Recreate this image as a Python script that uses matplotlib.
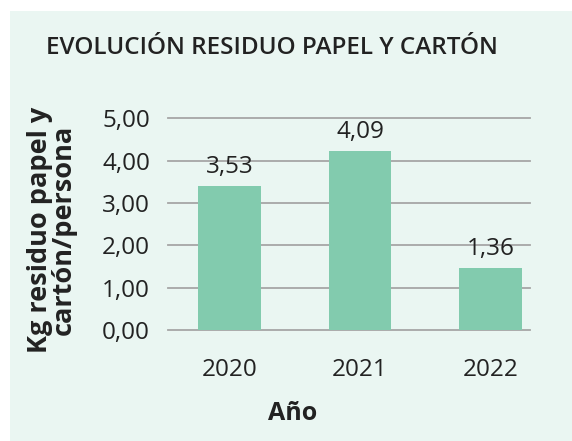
import matplotlib
matplotlib.use("Agg")
import matplotlib.pyplot as plt
from matplotlib.patches import Rectangle
from matplotlib.ticker import FuncFormatter

years = ["2020", "2021", "2022"]
kg_bar = [3.40, 4.23, 1.47]          # bar heights as drawn in the source
kg_labels = ["3,53", "4,09", "1,36"]  # printed data labels
yticks = [0, 1, 2, 3, 4, 5]

PANEL = "#eaf6f2"
BAR = "#82cbae"
GRID = "#a6a6a6"
TXT = "#222222"

plt.rcParams["font.family"] = ["Open Sans", "DejaVu Sans"]

fig = plt.figure(figsize=(5.72, 4.41), dpi=100)
fig.patches.append(Rectangle((10 / 572, 0), 1, 1 - 11 / 441, transform=fig.transFigure,
                             facecolor=PANEL, edgecolor="none", zorder=-5))

ax = fig.add_axes([168 / 572, 111 / 441, 362 / 572, 211.7 / 441])
ax.set_zorder(2)
ax.set_facecolor("none")
x = range(len(years))
bars = ax.bar(x, kg_bar, width=0.48, color=BAR, zorder=2)
for b, lab in zip(bars, kg_labels):
    ax.annotate(lab, (b.get_x() + b.get_width() / 2, b.get_height()), xytext=(0, 5),
                textcoords="offset points", ha="center", va="bottom", fontsize=17.5, color=TXT)

ax.set_xlim(-0.471, 2.303)
ax.set_ylim(0, 5)
ax.set_yticks(yticks)
ax.yaxis.set_major_formatter(FuncFormatter(lambda v, _: f"{v:.2f}".replace(".", ",")))
ax.set_xticks(list(x))
ax.set_xticklabels(years)
ax.tick_params(length=0, labelsize=17.5, colors=TXT)
ax.tick_params(axis="y", pad=13)
ax.tick_params(axis="x", pad=20)
ax.grid(axis="y", color=GRID, lw=1.3, zorder=1)
ax.set_axisbelow(True)
for gl in ax.get_ygridlines():
    gl.set_clip_on(False)
for s in ax.spines.values():
    s.set_visible(False)

fig.text(272 / 572, 1 - 48 / 441, "EVOLUCIÓN RESIDUO PAPEL Y CARTÓN", ha="center", va="center",
         fontsize=17.5, fontweight="semibold", color=TXT)
fig.text(293 / 572, 1 - 413 / 441, "Año", ha="center", va="center",
         fontsize=18, fontweight="bold", color=TXT)
fig.text(52 / 572, 1 - 230 / 441, "Kg residuo papel y\ncartón/persona", ha="center", va="center",
         rotation=90, multialignment="center", fontsize=19.5, fontweight="bold", color=TXT,
         linespacing=0.9)

fig.savefig("out.png", dpi=100)
